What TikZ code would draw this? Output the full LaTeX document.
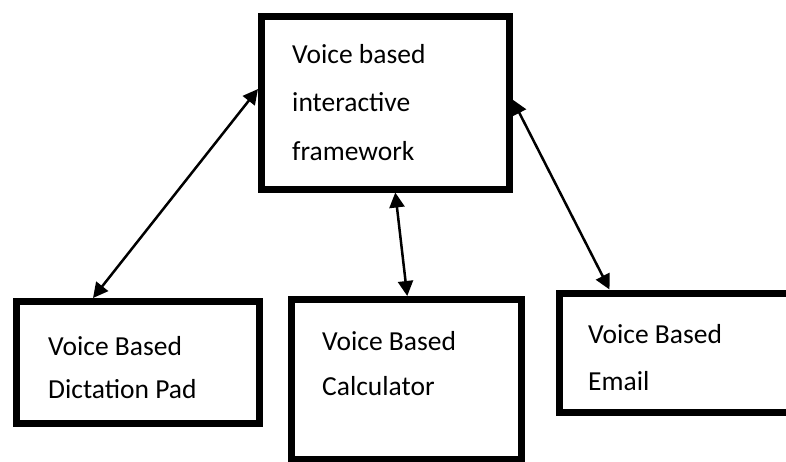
\documentclass[tikz,border=0pt]{standalone}
\usepackage{fontspec}
\setmainfont{Carlito}
\usetikzlibrary{arrows.meta,positioning}

\begin{document}
\begin{tikzpicture}[x=1pt,y=-1pt,
		box/.style={draw,line width=7pt,inner sep=0pt},
		boxtext/.style={anchor=base west,inner sep=0pt,align=left,font=\fontsize{27.5}{45}\selectfont},
		link/.style={line width=2.5pt,{Triangle[length=15pt,width=15pt]}-{Triangle[length=15pt,width=15pt]}}]
			%\draw[help lines] (0,0) grid (786,461);
			\useasboundingbox (0,0) rectangle (786,461);

			\node[box,minimum width=247.5pt,minimum height=173pt] (frame) at (385.25,102.5) {};
			\node[box,minimum width=243pt,minimum height=122pt] (dictation) at (138,362.5) {};
			\node[box,minimum width=230.5pt,minimum height=159.5pt] (calculator) at (406.25,379.25) {};
			\node[box,minimum width=251pt,minimum height=119pt] (email) at (684.5,352.5) {};

			% base anchor sits on the last line
			\node[boxtext,font=\fontsize{27.5}{48.5}\selectfont] (frametext) at (292,160) {Voice based\\interactive\\framework};
			\node[boxtext,font=\fontsize{27.5}{43}\selectfont] (dictationtext) at (48,398) {Voice Based\\Dictation Pad};
			\node[boxtext] (calculatortext) at (322,395) {Voice Based\\Calculator};
			\node[boxtext,font=\fontsize{27.5}{47}\selectfont] (emailtext) at (588,390) {Voice Based\\Email};

			\draw[link] ([yshift=13.5pt]frame.west) -- ([xshift=80pt]dictation.north west);
			\draw[link] ([xshift=10pt]frame.south) -- ([xshift=1pt]calculator.north);
			\draw[link] ([yshift=3pt]frame.east) -- ([xshift=54pt]email.north west);
		\end{tikzpicture}
\end{document}
